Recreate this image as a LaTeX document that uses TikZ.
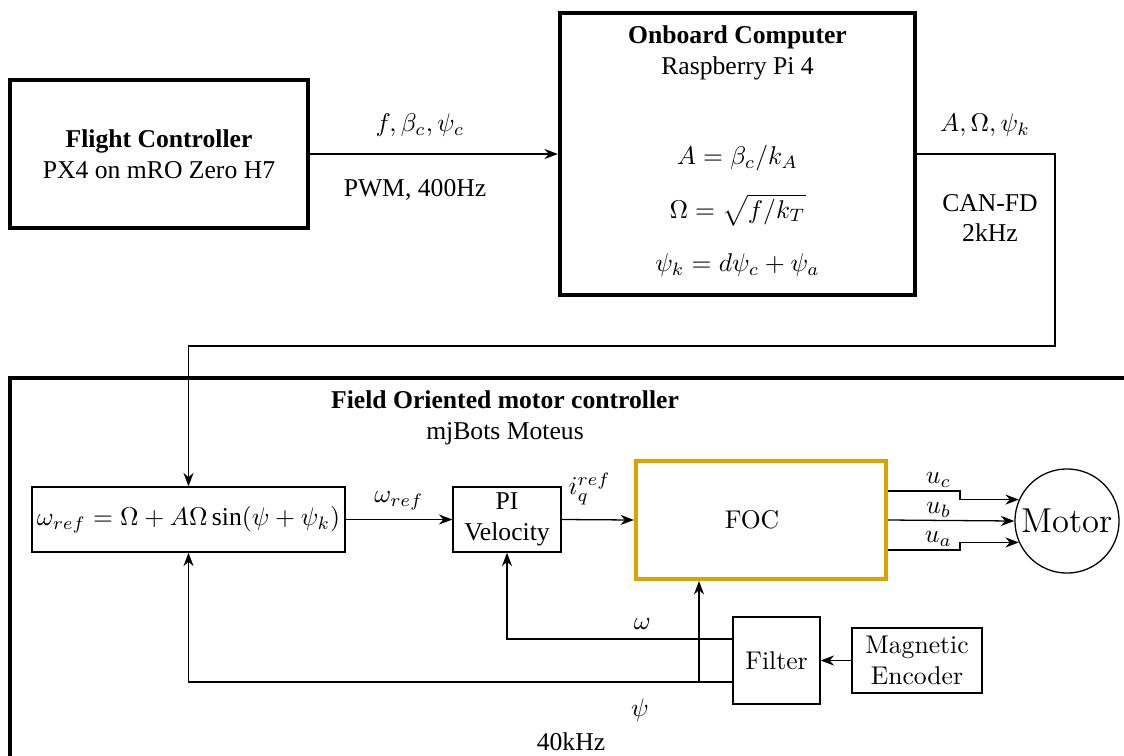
\documentclass[tikz,border=0pt]{standalone}
\usepackage{amsmath}
\usepackage{fontspec}
\setmainfont{Liberation Serif}
\usepackage{tikz}
\usetikzlibrary{arrows.meta,positioning,calc}
\definecolor{focgold}{RGB}{222,162,0}
\newcommand{\cmr}{\fontfamily{lmr}\selectfont}

\begin{document}
\begin{tikzpicture}[>=Stealth, x=0.39pt, y=-0.39pt, font=\normalsize,
  heavy/.style={draw, line width=1.6pt, align=center, inner sep=0pt},
  blk/.style={draw, line width=0.5pt, align=center, inner sep=0pt},
  wire/.style={line width=0.5pt}]
  \useasboundingbox (0,0) rectangle (1124,755);
  % flight controller and onboard computer
  \node[heavy, minimum width=116pt, minimum height=57.7pt] (fc) at (159,154)
    {\textbf{Flight Controller}\\PX4 on mRO Zero H7};
  \node[heavy, minimum width=138.5pt, minimum height=110pt] (obc) at (737.5,154) {};
  \node[align=center] (obctitle) at (737.5,53) {\textbf{Onboard Computer}\\Raspberry Pi 4};
  \node (eqa) at (737.5,158) {$A=\beta_c/k_A$};
  \node (eqo) at (737.5,210) {$\Omega=\sqrt{f/k_T}$};
  \node (eqp) at (737.5,265) {$\psi_k=d\psi_c+\psi_a$};
  \draw[wire,->] (fc.east) -- (fc.east -| obc.west);
  \node (cmd) at (420,125) {$f,\beta_c,\psi_c$};
  \node (pwm) at (415,190) {PWM, 400Hz};
  \node (amp) at (985,125) {$A,\Omega,\psi_k$};
  \node[align=center] (can) at (990,218) {CAN-FD\\2kHz};
  % motor controller frame
  \draw[line width=1.6pt] (1140,378) -- (10,378) -- (10,770);
  \node[align=center] (fom) at (505,418) {\textbf{Field Oriented motor controller}\\mjBots Moteus};
  \node (rate) at (571,742) {40kHz};
  % blocks
  \node[blk, minimum width=122pt, minimum height=25.4pt] (wref) at (188.5,519.5)
    {$\omega_{ref}=\Omega+A\Omega\sin(\psi+\psi_k)$};
  \node[blk, minimum width=42.1pt, minimum height=25.4pt] (pi) at (507,519.5) {PI\\Velocity};
  \node[draw=focgold, line width=1.6pt, minimum width=97.5pt, minimum height=46pt] (foc) at (761,520) {};
  \node[font=\cmr] (foctext) at (752,520) {FOC};
  \node[draw, circle, line width=0.5pt, minimum size=40.6pt, inner sep=0pt,
    font=\cmr\fontsize{13.5}{16}\selectfont] (motor) at (1067,521) {Motor};
  \node[blk, minimum width=33.9pt, minimum height=33.9pt, font=\cmr] (filter) at (776.5,660.5) {Filter};
  \node[blk, minimum width=50.7pt, minimum height=25.4pt, font=\cmr] (enc) at (917,660.5)
    {Magnetic\\Encoder};
  \coordinate (canbend) at (1055,346);
  \coordinate (ucbend) at (960,491);
  \coordinate (uabend) at (960,550);
  \coordinate (tap) at (699,682);
  % signals
  \draw[wire,->] (obc.east) -| (canbend) -| (wref.north);
  \draw[wire,->] (wref.east) -- node[above]{$\omega_{ref}$} (pi.west);
  \draw[wire,->] (pi.east) -- node[above right, pos=0, inner sep=2.5pt, yshift=3pt]{$i_q^{ref}$} (foc.west);
  \draw[wire,->] (foc.east |- ucbend) -- node[above, pos=0.7, inner sep=1pt]{$u_c$} (ucbend) |- (motor.156);
  \draw[wire,->] (foc.east) -- node[above, pos=0.4, inner sep=1pt]{$u_b$} (motor.west);
  \draw[wire,->] (foc.east |- uabend) -- node[above, pos=0.7, inner sep=1pt]{$u_a$} (uabend) |- (motor.204);
  \draw[wire,->] (enc.west) -- (filter.east);
  \draw[wire,->] ([yshift=8.4pt]filter.west) -| node[above, pos=0.2]{$\omega$} (pi.south);
  \draw[wire,->] ([yshift=-8.4pt]filter.west) -| node[below, pos=0.085, yshift=-3pt]{$\psi$} (wref.south);
  \draw[wire,->] (tap) -- (tap |- foc.south);
\end{tikzpicture}
\end{document}
